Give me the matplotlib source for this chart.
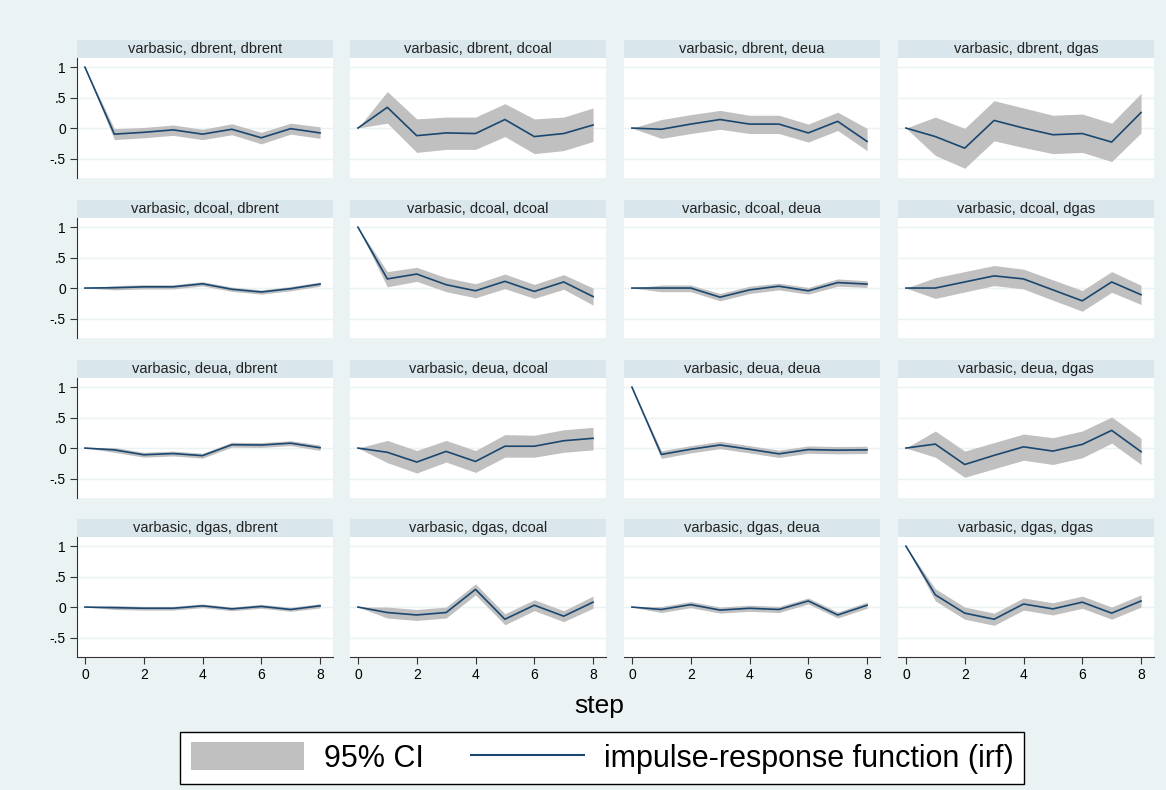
import numpy as np
import matplotlib
matplotlib.use("Agg")
from matplotlib import pyplot as plt
from matplotlib.patches import Patch, Rectangle
from matplotlib.lines import Line2D

plt.rcParams['font.family'] = ['Liberation Sans', 'DejaVu Sans']

steps = [0, 1, 2, 3, 4, 5, 6, 7, 8]
names = ['dbrent', 'dcoal', 'deua', 'dgas']

# impulse dbrent -> responses dbrent, dcoal, deua, dgas
irf_dbrent = [[1, -0.10, -0.07, -0.03, -0.10, -0.02, -0.16, -0.01, -0.08],
              [0, 0.34, -0.125, -0.08, -0.09, 0.14, -0.14, -0.09, 0.05],
              [0, -0.02, 0.065, 0.14, 0.065, 0.065, -0.08, 0.11, -0.22],
              [0, -0.14, -0.33, 0.125, 0, -0.11, -0.09, -0.23, 0.255]]
lo_dbrent = [[1, -0.19, -0.16, -0.12, -0.19, -0.11, -0.26, -0.10, -0.17],
             [0, 0.08, -0.40, -0.35, -0.35, -0.14, -0.42, -0.37, -0.22],
             [0, -0.17, -0.09, -0.02, -0.09, -0.09, -0.23, -0.04, -0.37],
             [0, -0.45, -0.66, -0.21, -0.32, -0.42, -0.40, -0.55, -0.08]]
hi_dbrent = [[1, -0.01, 0.01, 0.05, -0.02, 0.07, -0.07, 0.08, 0.02],
             [0, 0.60, 0.15, 0.18, 0.18, 0.40, 0.15, 0.18, 0.33],
             [0, 0.14, 0.22, 0.29, 0.21, 0.21, 0.065, 0.26, -0.005],
             [0, 0.18, -0.005, 0.45, 0.33, 0.21, 0.23, 0.08, 0.57]]

# impulse dcoal
irf_dcoal = [[0, 0.005, 0.02, 0.02, 0.07, -0.02, -0.065, -0.01, 0.065],
             [1, 0.15, 0.23, 0.055, -0.045, 0.11, -0.055, 0.10, -0.14],
             [0, 0, 0, -0.15, -0.03, 0.03, -0.045, 0.09, 0.065],
             [0, 0, 0.10, 0.20, 0.15, -0.03, -0.21, 0.10, -0.11]]
lo_dcoal = [[0, -0.03, -0.015, -0.015, 0.035, -0.055, -0.10, -0.045, 0.03],
            [1, 0.02, 0.11, -0.06, -0.16, -0.01, -0.17, -0.02, -0.28],
            [0, -0.06, -0.06, -0.21, -0.09, -0.03, -0.10, 0.03, 0.01],
            [0, -0.17, -0.065, 0.04, -0.015, -0.20, -0.38, -0.07, -0.27]]
hi_dcoal = [[0, 0.04, 0.055, 0.055, 0.105, 0.015, -0.03, 0.025, 0.10],
            [1, 0.27, 0.34, 0.17, 0.07, 0.23, 0.06, 0.22, 0.0],
            [0, 0.05, 0.05, -0.09, 0.03, 0.08, 0.01, 0.15, 0.12],
            [0, 0.17, 0.27, 0.37, 0.31, 0.135, -0.04, 0.27, 0.045]]

# impulse deua
irf_deua = [[0, -0.03, -0.11, -0.09, -0.125, 0.055, 0.05, 0.08, 0.005],
            [0, -0.07, -0.23, -0.055, -0.22, 0.03, 0.03, 0.12, 0.16],
            [1, -0.105, -0.02, 0.05, -0.02, -0.095, -0.025, -0.035, -0.03],
            [0, 0.065, -0.27, -0.12, 0.02, -0.05, 0.06, 0.29, -0.06]]
lo_deua = [[0, -0.07, -0.15, -0.13, -0.165, 0.015, 0.01, 0.04, -0.04],
           [0, -0.24, -0.41, -0.23, -0.40, -0.15, -0.15, -0.07, -0.03],
           [1, -0.17, -0.08, -0.01, -0.08, -0.155, -0.085, -0.095, -0.09],
           [0, -0.15, -0.48, -0.34, -0.20, -0.27, -0.16, 0.08, -0.27]]
hi_deua = [[0, 0.01, -0.07, -0.05, -0.085, 0.095, 0.09, 0.12, 0.05],
           [0, 0.125, -0.04, 0.125, -0.04, 0.22, 0.21, 0.30, 0.34],
           [1, -0.045, 0.04, 0.11, 0.04, -0.035, 0.035, 0.025, 0.03],
           [0, 0.28, -0.05, 0.09, 0.23, 0.17, 0.28, 0.51, 0.16]]

# impulse dgas
irf_dgas = [[0, -0.01, -0.02, -0.02, 0.02, -0.03, 0.01, -0.04, 0.02],
            [0, -0.09, -0.13, -0.09, 0.29, -0.20, 0.03, -0.15, 0.08],
            [0, -0.04, 0.04, -0.05, -0.02, -0.04, 0.10, -0.13, 0.03],
            [1, 0.20, -0.10, -0.20, 0.05, -0.03, 0.08, -0.10, 0.10]]
lo_dgas = [[0, -0.04, -0.05, -0.05, -0.01, -0.06, -0.02, -0.07, -0.015],
           [0, -0.18, -0.22, -0.18, 0.20, -0.29, -0.06, -0.24, -0.02],
           [0, -0.09, -0.01, -0.10, -0.07, -0.09, 0.05, -0.18, -0.02],
           [1, 0.10, -0.20, -0.30, -0.05, -0.13, -0.02, -0.20, 0.0]]
hi_dgas = [[0, 0.025, 0.01, 0.01, 0.05, 0.0, 0.045, -0.005, 0.055],
           [0, 0.0, -0.04, 0.0, 0.38, -0.11, 0.12, -0.06, 0.18],
           [0, 0.01, 0.09, 0.0, 0.03, 0.01, 0.15, -0.08, 0.08],
           [1, 0.30, 0.0, -0.10, 0.15, 0.07, 0.18, 0.0, 0.20]]

irfs = [irf_dbrent, irf_dcoal, irf_deua, irf_dgas]
los = [lo_dbrent, lo_dcoal, lo_deua, lo_dgas]
his = [hi_dbrent, hi_dcoal, hi_deua, hi_dgas]

yticks = [-0.5, 0, 0.5, 1]
ytlabels = ['-.5', '0', '.5', '1']
xticks = [0, 2, 4, 6, 8]

bg = '#eaf2f3'
strip = '#d9e6eb'
ci_col = '#c0c0c0'
line_col = '#1a476f'

W, H = 1166, 790
fig = plt.figure(figsize=(W / 100, H / 100), dpi=100, facecolor=bg)

lefts = [77, 350, 624, 898]
tops = [58, 218, 378, 537]
pw, ph, sh = 256, 120, 18

for r in range(4):
    for c in range(4):
        ax = fig.add_axes([lefts[c] / W, 1 - (tops[r] + ph) / H, pw / W, ph / H])
        ax.set_facecolor('white')
        ax.fill_between(steps, los[r][c], his[r][c], color=ci_col, lw=0, zorder=2)
        ax.plot(steps, irfs[r][c], color=line_col, lw=1.2, zorder=3)
        ax.set_xlim(-0.27, 8.44)
        ax.set_ylim(-0.82, 1.15)
        for y in yticks:
            ax.axhline(y, color=bg, lw=1, zorder=1)
        for s in ax.spines.values():
            s.set_visible(False)
        ax.set_yticks(yticks)
        ax.set_xticks(xticks)
        if c == 0:
            ax.spines['left'].set_visible(True)
            ax.spines['left'].set_color('#333333')
            ax.set_yticklabels(ytlabels, fontsize=10)
            ax.tick_params(axis='y', length=5, color='#333333', pad=3)
        else:
            ax.tick_params(axis='y', left=False, labelleft=False)
        if r == 3:
            ax.spines['bottom'].set_visible(True)
            ax.spines['bottom'].set_color('#333333')
            ax.set_xticklabels([str(x) for x in xticks], fontsize=10)
            ax.tick_params(axis='x', length=5, color='#333333', pad=3)
        else:
            ax.tick_params(axis='x', bottom=False, labelbottom=False)
        # header strip
        ax.add_patch(Rectangle((0, 1), 1, sh / ph, transform=ax.transAxes,
                               facecolor=strip, edgecolor='none', clip_on=False))
        ax.text(0.5, 1 + sh / ph / 2, 'varbasic, %s, %s' % (names[r], names[c]),
                transform=ax.transAxes, ha='center', va='center', fontsize=10.5,
                color='#222222')

fig.text(599 / W, 1 - 706 / H, 'step', ha='center', va='center', fontsize=19)

# legend
handles = [Patch(facecolor=ci_col, edgecolor='none'),
           Line2D([0], [0], color=line_col, lw=1.5)]
leg = fig.legend(handles, ['95% CI', 'impulse-response function (irf)'],
                 loc='center', bbox_to_anchor=(602 / W, 1 - 758 / H), ncol=2,
                 fontsize=22, handlelength=3.7, handleheight=1.0, columnspacing=1.55,
                 frameon=True, fancybox=False, borderpad=0.35, handletextpad=0.65,
                 facecolor='white', framealpha=1.0)
leg.get_frame().set_edgecolor('black')
leg.get_frame().set_linewidth(1.0)

fig.savefig('out.png', dpi=100, facecolor=bg)
